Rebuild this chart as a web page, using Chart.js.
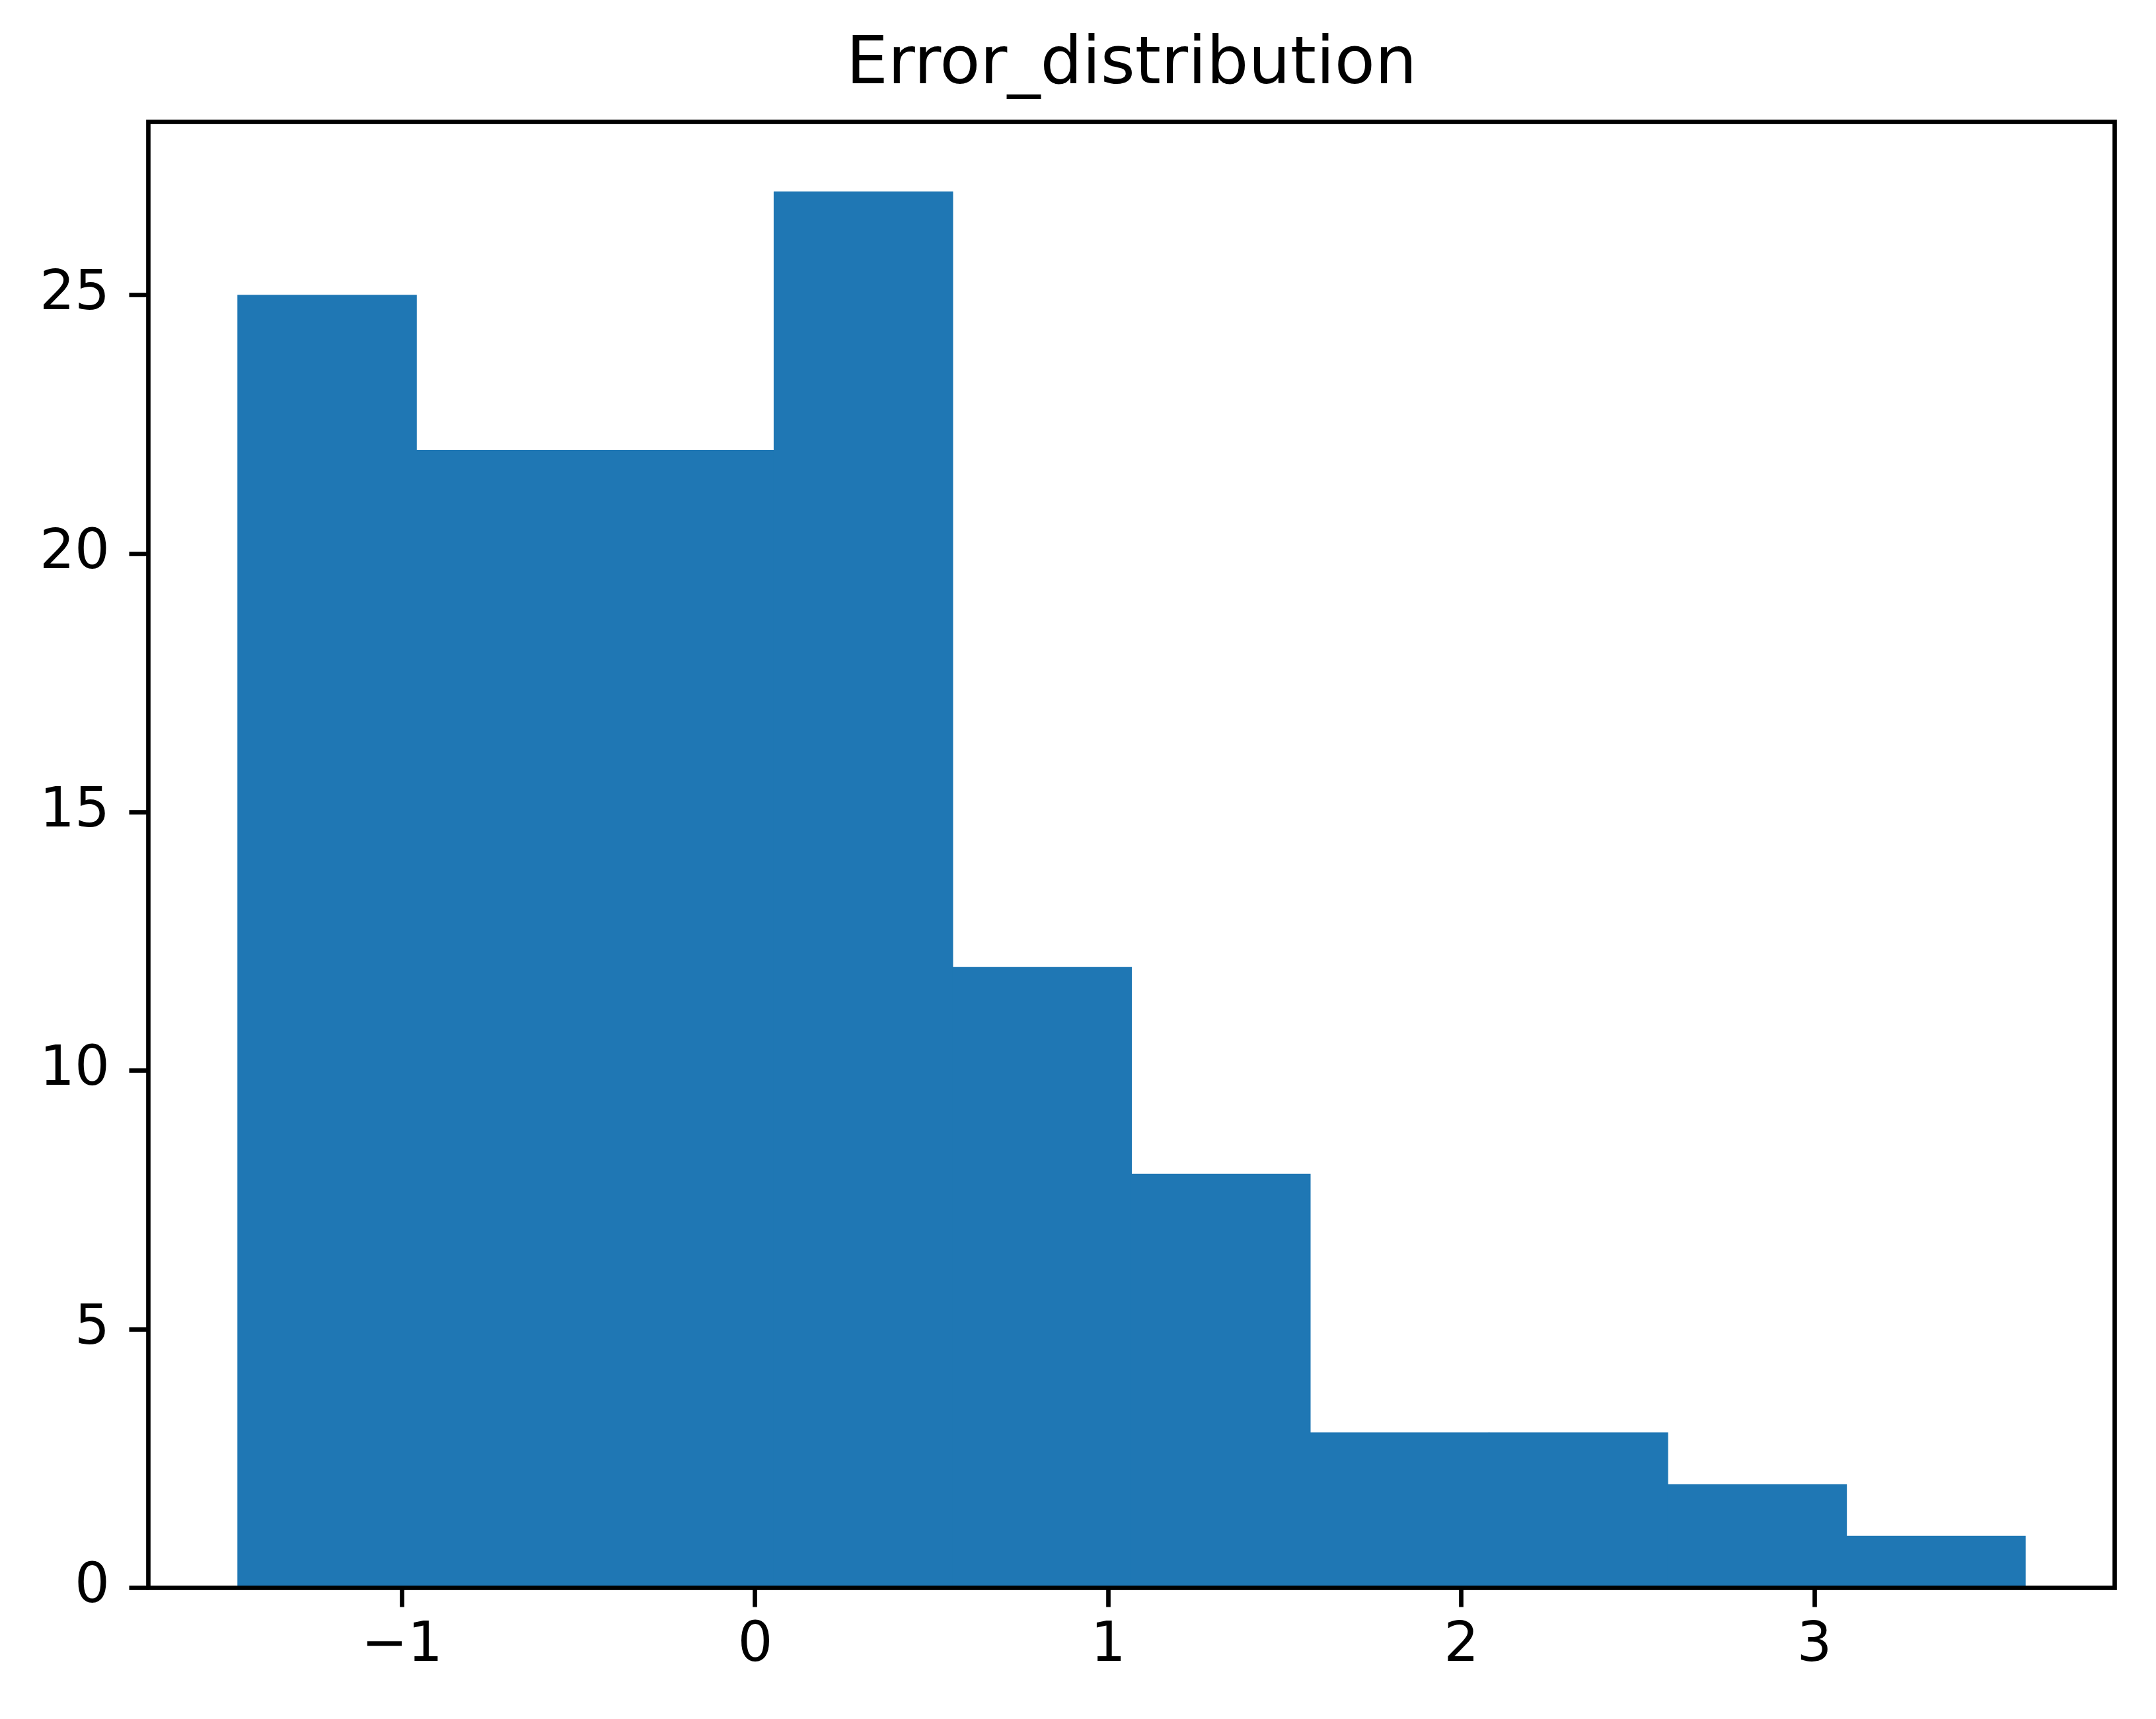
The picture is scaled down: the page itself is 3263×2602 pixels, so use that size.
<!DOCTYPE html>
<html><head><meta charset="utf-8">
<script src="https://cdn.jsdelivr.net/npm/chart.js@4"></script>
<style>html,body{margin:0;padding:0;background:#fff;overflow:hidden}#wrap{width:3263px;height:2602px}</style>
</head><body><div id="wrap"><canvas id="c" width="3263" height="2602"></canvas></div>
<script>
const chartTitle = 'Error_distribution';
const binEdges = [-1.4655, -0.9592, -0.4530, 0.0533, 0.5596, 1.0658, 1.5721, 2.0784, 2.5846, 3.0909, 3.5972];
const counts = [25, 22, 22, 27, 12, 8, 3, 3, 2, 1];
const xTicks = [-1, 0, 1, 2, 3];
const yTicks = [0, 5, 10, 15, 20, 25];
const xLimits = [-1.7186, 3.8503];
const yLimits = [0, 28.35];

const barData = counts.map((c, i) => ({ x: (binEdges[i] + binEdges[i + 1]) / 2, y: c }));
const fmt = v => (v < 0 ? '\u2212' + Math.abs(v) : String(v));

const FONT = 'DejaVu Sans';
Chart.defaults.font.family = FONT;
Chart.defaults.font.size = 83.33;
Chart.defaults.color = '#000';

const frame = {
  id: 'frame',
  afterDatasetsDraw(chart) {
    const { ctx, chartArea: a } = chart;
    ctx.save();
    ctx.strokeStyle = '#000';
    ctx.lineWidth = 6.67;
    ctx.lineJoin = 'miter';
    ctx.strokeRect(a.left, a.top, a.right - a.left, a.bottom - a.top);
    ctx.restore();
  }
};

new Chart(document.getElementById('c'), {
  type: 'bar',
  data: {
    datasets: [{
      data: barData,
      backgroundColor: '#1f77b4',
      borderWidth: 0,
      barPercentage: 1,
      categoryPercentage: 1,
      inflateAmount: 0.5
    }]
  },
  options: {
    responsive: false,
    animation: false,
    devicePixelRatio: 1,
    layout: { padding: { left: 0, right: 62.5, top: 0, bottom: 0 } },
    plugins: {
      legend: { display: false },
      tooltip: { enabled: false },
      title: {
        display: true,
        text: chartTitle,
        fullSize: false,
        color: '#000',
        font: { size: 100, family: FONT, weight: 'normal' },
        padding: { top: 40, bottom: 24.5 }
      }
    },
    scales: {
      x: {
        type: 'linear',
        position: 'bottom',
        min: xLimits[0],
        max: xLimits[1],
        offset: false,
        afterBuildTicks: s => { s.ticks = xTicks.map(v => ({ value: v })); },
        afterFit: s => { s.height = 198.5; },
        ticks: { callback: v => fmt(v), padding: 10, maxRotation: 0, autoSkip: false, color: '#000', font: { size: 83.33, family: FONT } },
        grid: { display: true, offset: false, drawOnChartArea: false, drawTicks: true, tickLength: 29, tickWidth: 6.67, tickColor: '#000', color: '#000' },
        border: { display: false }
      },
      y: {
        type: 'linear',
        position: 'left',
        min: yLimits[0],
        max: yLimits[1],
        afterBuildTicks: s => { s.ticks = yTicks.map(v => ({ value: v })); },
        afterFit: s => { s.width = 224.5; },
        ticks: { callback: v => fmt(v), padding: 29.5, autoSkip: false, color: '#000', font: { size: 83.33, family: FONT } },
        grid: { display: true, offset: false, drawOnChartArea: false, drawTicks: true, tickLength: 29, tickWidth: 6.67, tickColor: '#000', color: '#000' },
        border: { display: false }
      }
    }
  },
  plugins: [frame]
});
</script>
</body></html>
